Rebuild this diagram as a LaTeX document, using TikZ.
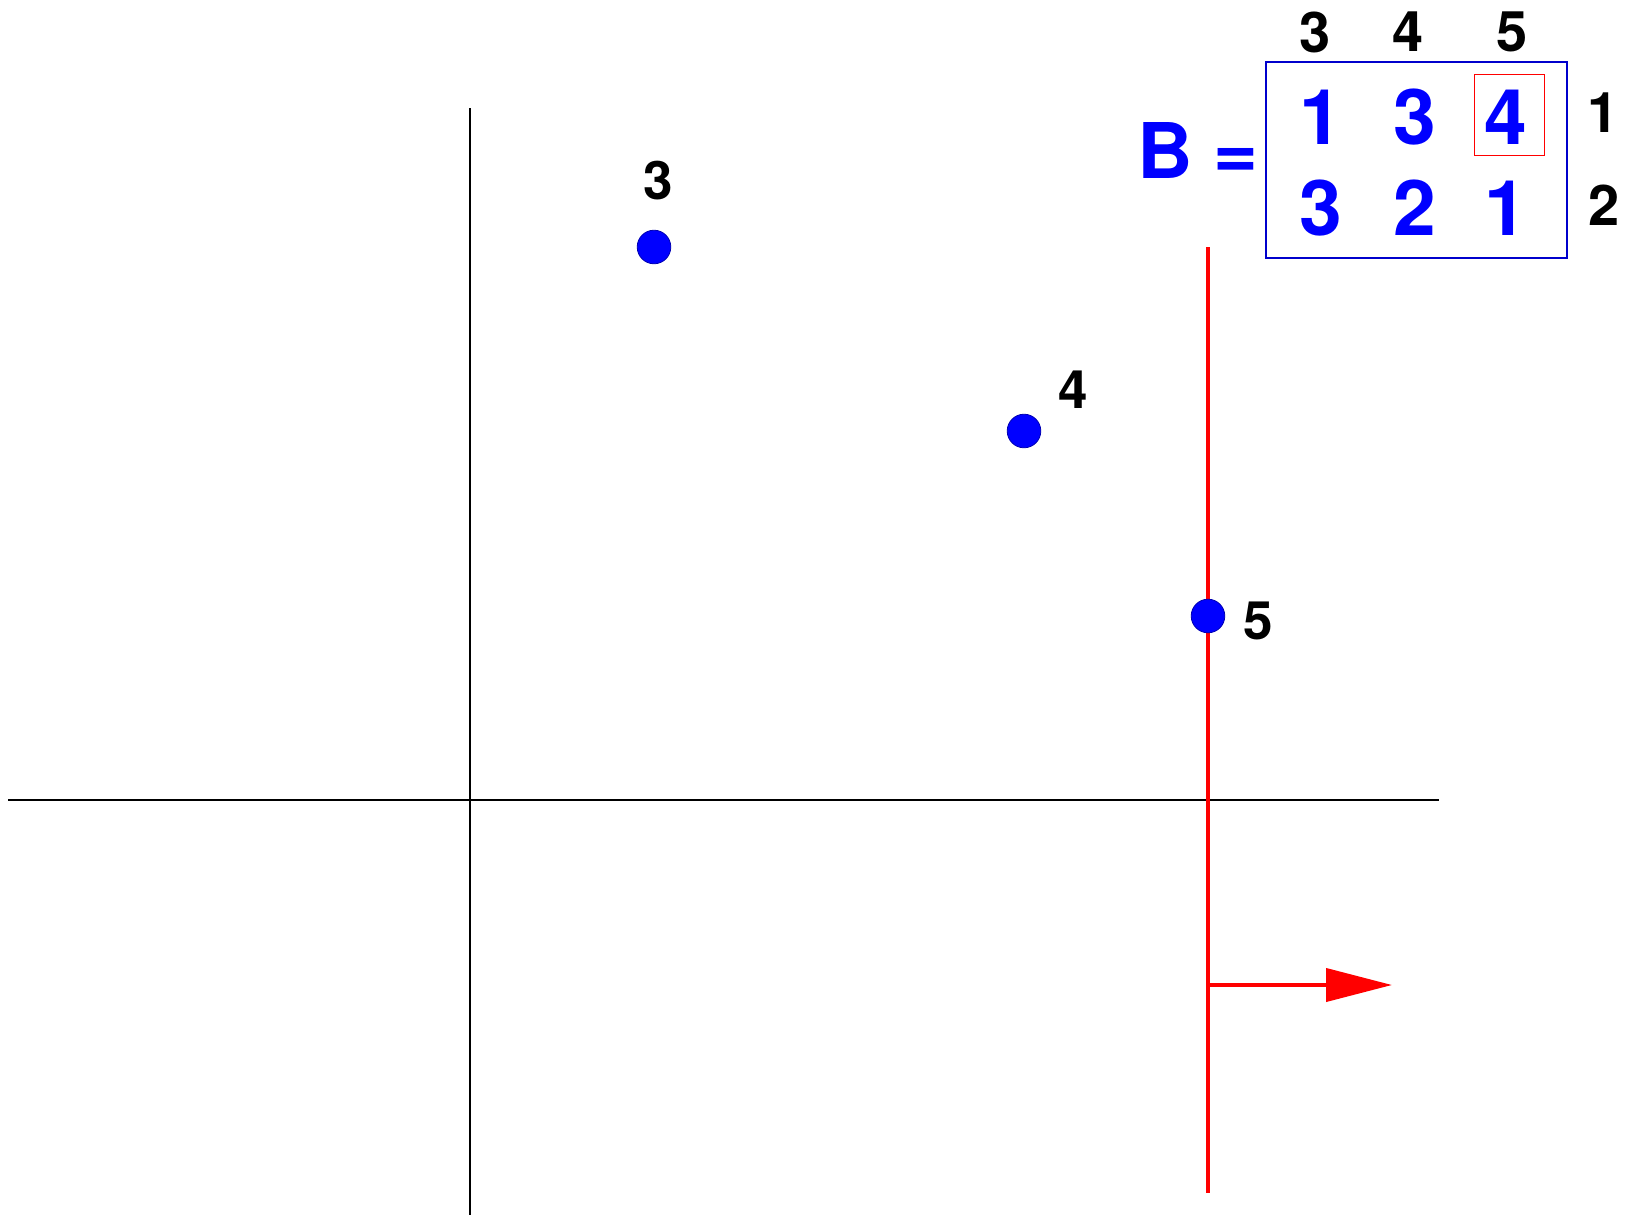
\documentclass[tikz,border=0pt]{standalone}
\usepackage{fontspec}
\setmainfont{TeX Gyre Heros}
\usetikzlibrary{arrows.meta}
\begin{document}
\begin{tikzpicture}[x=.5pt,y=-.5pt,line cap=butt,
  pt/.style={circle,fill=blue,draw=blue!70!black,line width=.4pt,inner sep=0,minimum size=16.8pt},
  lab/.style={inner sep=0,font=\fontsize{26.5}{26.5}\bfseries\selectfont},
  idx/.style={inner sep=0,font=\fontsize{28}{28}\bfseries\selectfont},
  ent/.style={inner sep=0,text=blue,font=\fontsize{38.4}{38.4}\bfseries\selectfont}]
\useasboundingbox (0,0) rectangle (1634,1215);
% axes
\coordinate(xl)at(8,800);\coordinate(xr)at(1439,800);\coordinate(yt)at(470,108);\coordinate(yb)at(470,1215);
\draw[line width=1pt](xl)--(xr) (yt)--(yb);
% red line and normal
\coordinate(rt)at(1208,247);\coordinate(rb)at(1208,1193);\coordinate(na)at(1208,985);\coordinate(nb)at(1392,985);
\draw[red,line width=2pt](rt)--(rb);
\draw[red,line width=2pt,-{Triangle[length=33pt,width=16.5pt]}](na)--(nb);
% points
\node[pt](p3)at(654,247){};\node[pt](p4)at(1024,431){};\node[pt](p5)at(1208,616){};
\node[lab](l3)at(658,181){3};\node[lab](l4)at(1073,390){4};\node[lab](l5)at(1258,621){5};
% matrix B
\node[ent](B)at(1198,151){B =};
\draw[blue!80!black,line width=.75pt](1266,62)rectangle(1567,258);
\draw[red,line width=.5pt](1474,74)rectangle(1544,155);
\foreach\c/\cx/\x/\a/\b in{3/1315/1321/1/3,4/1408/1415/3/2,5/1512/1506/4/1}{\node[idx](c\c)at(\cx,32){\c};\node[ent](e1\c)at(\x,117.5){\a};\node[ent](e2\c)at(\x,208){\b};}
\node[idx](r1)at(1603,112.5){1};\node[idx](r2)at(1604,205){2};
\end{tikzpicture}
\end{document}
